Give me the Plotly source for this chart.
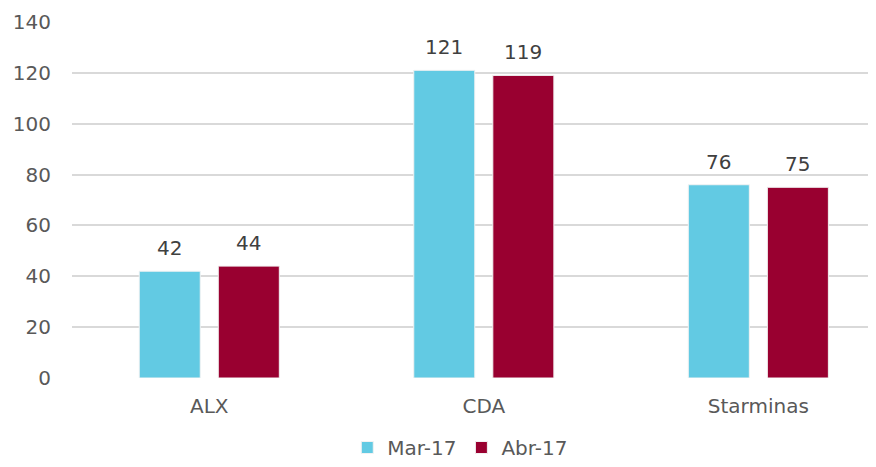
import plotly.graph_objects as go

categories = ["ALX", "CDA", "Starminas"]
mar17 = [42, 121, 76]
abr17 = [44, 119, 75]
series_names = ["Mar-17", "Abr-17"]
y_ticks = [0, 20, 40, 60, 80, 100, 120, 140]

FONT = "DejaVu Sans"
colors = ["#62CAE3", "#990030"]
BARGAP = 0.424
GROUPGAP = 0.228

fig = go.Figure()
slot = (1 - BARGAP) / 2
for k, (name, vals, col) in enumerate(zip(series_names, [mar17, abr17], colors)):
    fig.add_trace(go.Bar(
        x=categories, y=vals, name=name,
        marker=dict(color=col, line=dict(color="#F2F2F2", width=1)),
    ))
    offset = (k - 0.5) * slot
    for i, v in enumerate(vals):
        fig.add_annotation(x=i + offset, y=v, text=str(v), showarrow=False,
                           yanchor="bottom", yshift=9,
                           font=dict(family=FONT, size=20, color="#404040"))

fig.update_layout(
    width=878, height=459,
    margin=dict(l=64, r=0, t=14, b=89),
    paper_bgcolor="white", plot_bgcolor="white",
    barmode="group", bargap=BARGAP, bargroupgap=GROUPGAP,
    font=dict(family=FONT, size=20, color="#595959"),
    showlegend=True,
    legend=dict(orientation="h", x=0.477, xanchor="center", y=-0.25, yanchor="bottom",
                font=dict(family=FONT, size=20, color="#595959"),
                itemwidth=30, traceorder="normal"),
)
fig.update_xaxes(range=[-0.5, 2.465], showgrid=False, showline=False, zeroline=False,
                 ticks="", ticklabelstandoff=14, automargin=False,
                 tickfont=dict(family=FONT, size=20, color="#595959"))
fig.update_yaxes(range=[0, 140], tickvals=y_ticks, showgrid=True, gridcolor="#D9D9D9",
                 gridwidth=1.5, zeroline=False, showline=False, ticks="",
                 ticklabelstandoff=20, automargin=False,
                 tickfont=dict(family=FONT, size=20, color="#595959"))

fig.write_html("out.html")
